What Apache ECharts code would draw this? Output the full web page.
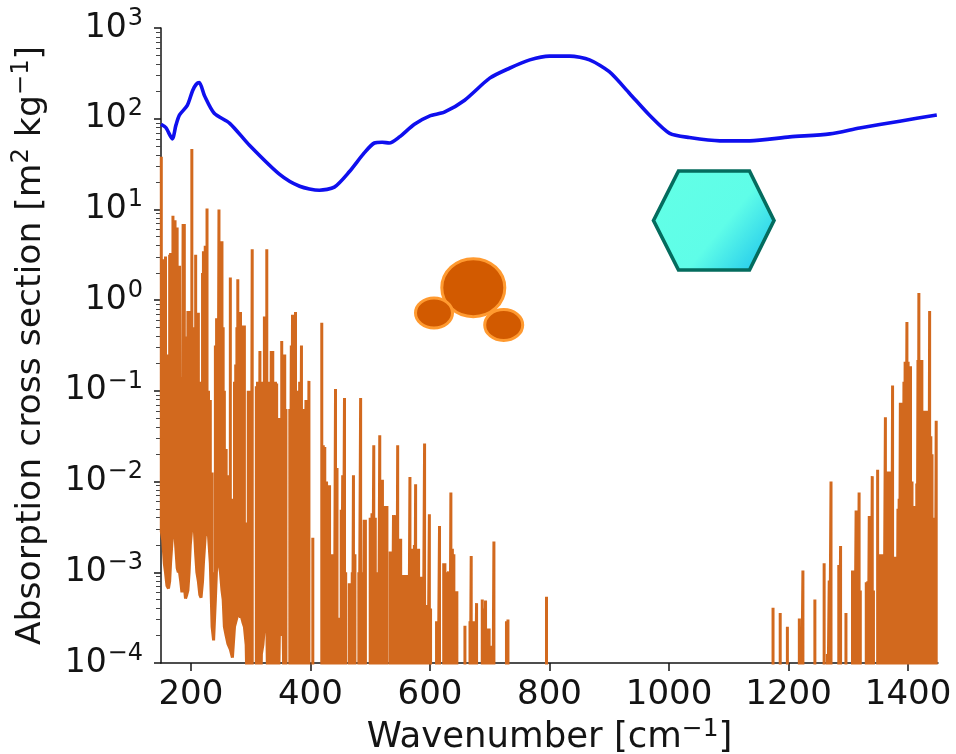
<!DOCTYPE html>
<html><head><meta charset="utf-8">
<style>html,body{margin:0;padding:0;background:#fff}#c{width:956px;height:754px}</style>
<script src="https://cdn.jsdelivr.net/npm/echarts@6/dist/echarts.min.js"></script>
</head><body><div id="c"></div>
<script>
// Aerosol-particle absorption (blue): wavenumber [cm-1] and cross section [m2/kg]
const blueWavenumber = [150,158,169,175,181,194,203,209,214,223,239,265,298,348,382,415,440,465,490,507,520,532,549,574,599,624,658,700,733,767,800,834,867,900,934,967,1001,1034,1085,1135,1202,1269,1319,1386,1448];
const blueCross = [87,80,60,85,110,140,205,240,250,178,115,89,51,24.5,18,16.3,17.6,26,42,54,55,54,63,87,107,118,160,280,360,445,490,490,445,330,190,110,69,62,57,57,63,68,79,94,110];

// Gas lines, cross section given as a power of ten.
// Dense part: [wavenumber, top decade, lower end decade]
const orangeDenseLines = [
[150.5,1.58,-2.55],[153,.29,-2.65],[155.5,.45,-2.9],[157.5,.48,-3],[160,-.6,-3.15],[162.5,-.62,-3.18],[164.5,.5,-3.1],[166,.52,-2.9],[168,-.3,-2.7],[170,.93,-2.5],[172,.85,-2.49],[173.5,.88,-2.6],[175.5,.5,-2.8],[177,.8,-2.95],[179,.38,-3],[181,.38,-3],[183,-.85,-3.1],[185,-.85,-3.22],[187,.84,-3.2],[189,.84,-3.15],[191,-.4,-3.29],[193,-.4,-3.25],[195,-.12,-3.2],[197,-.12,-3],[199,-.4,-2.7],[201.6,1.665,-2.5],[204,-.3,-2.47],[206,-.3,-2.55],[208,.5,-2.8],[210,-.14,-3],[212.5,-.14,-3.1],[215,-.9,-3.25],[217,-.96,-3.28],[219.5,.3,-3.1],[221,.54,-2.9],[224,.6,-2.6],[227,1.01,-2.55],[229.5,-1,-2.6],[232.5,-1.1,-2.9],[235.5,-1.9,-3.6],[238,-3,-3.75],[241,-.5,-3.3],[243,-.2,-2.95],[245,-.2,-2.89],[247,1,-2.9],[249.5,.65,-3],[252,.65,-3.2],[254,-.3,-3.3],[256,-1,-3.6],[259,-1.64,-3.7],[262,-1.93,-3.79],[266,.25,-3.85],[269.5,-2.19,-3.94],[273,-.9,-3.6],[275,-.71,-3.55],[277,-.3,-3.5],[278.5,.23,-3.45],[281,-.5,-3.45],[283,-.13,-3.5],[285,-.8,-3.5],[287,-.28,-3.55],[289.5,-.28,-3.6],[292.5,-2.45,-3.8],[318,-1.3,-3.9],[320.5,-.9,-3.8],[323,-.18,-3.6],[327,.56,-3.5],[348,-1.3,-3.7],[350,-1.3,-3.7],[352,-.45,-3.6],[354.5,-.6,-3.7]
];
// Open part: [wavenumber, top decade]; these lines run off the bottom of the axis
const orangeOpenLines = [
[296,-1],[298.5,-1],[300.5,-1],[302.6,.56],[309.5,-.95],[311.5,-.9],[313.5,-1.1],[315.5,-.56],[329.5,-.9],[332,-1],[334.5,-.56],[337,-.56],[339.5,-1.4],[341.5,-.9],[343.5,-.92],[345.5,-1.9],[357,-.6],[359,-1.2],[365.5,-1.2],[368,-.5],[370,-.16],[372.5,-.5],[375,-.13],[377,-1],[379.5,-1.1],[382,-.9],[385,-.5],[389.5,-1.2],[392.5,-1.1],[395,-1.2],[397.5,-.89],[404,-2.62],[419,-.25],[421.5,-1.6],[424,-1.62],[427,-2],[430,-2.3],[432,-2.04],[434.5,-2.8],[437,-2.8],[439.5,-2.9],[442,-.98],[444.5,-1.85],[447.5,-3.5],[451.5,-2.31],[454,-1.93],[457,-1.08],[459,-3],[465,-3.12],[467.5,-3.12],[470,-3],[472,-1.93],[474.5,-2.8],[481,-3],[484,-1.08],[486.5,-3],[488,-3.9],[490,-2.42],[492,-2.42],[500,-2.4],[503,-2.35],[506,-1.6],[508.5,-2.4],[511,-3.3],[513.5,-3],[516,-1.49],[518.5,-1.98],[520.5,-1.98],[523,-2.27],[525.5,-2.27],[528,-2.27],[533.5,-2.77],[536,-2.77],[539,-2.37],[542,-2.37],[544,-2.4],[546,-1.6],[548,-2.63],[551,-2.63],[553,-3.03],[555.5,-3.03],[558,-3.03],[561.5,-3.03],[564,-3.03],[566.5,-1.95],[569,-2.74],[571.5,-3.84],[574,-2.7],[576,-2.03],[578.5,-2.74],[581,-2.74],[583,-3.05],[585.5,-3.05],[588,-3.5],[591,-1.58],[593.5,-3.36],[596,-3.36],[599,-2.36],[601,-3.4],[611,-3.54],[613,-3.54],[616,-2.49],[623,-2.9],[625,-2.9],[628,-3],[631,-2.99],[633,-3],[635,-2.12],[637.5,-2.74],[640,-2.8],[642.5,-3.21],[645,-3.21],[658.5,-3.59],[667,-3.54],[669,-2.82],[672,-3.54],[675,-3.54],[678,-3.34],[687.5,-3.3],[690,-3.4],[693,-3.31],[696,-3.62],[699,-3.62],[701,-3.81],[703,-3.81],[705,-3.81],[707,-2.66],[728,-3.54],[730.5,-3.52],[795,-3.27],
[1174,-3.39],[1186,-3.45],[1198,-3.6],[1218,-3.51],[1221,-3.6],[1224,-2.98],[1244,-3.3],[1259.5,-2.9],[1265,-3.9],[1268,-3.09],[1271,-2],[1284,-2.92],[1287,-2.71],[1296,-3.45],[1307,-2.98],[1310,-2.98],[1313,-2.32],[1315.5,-2.4],[1318,-2.12],[1320,-3.2],[1330,-3.11],[1332.5,-3.1],[1335,-2.38],[1337.5,-2.4],[1340,-1.94],[1342,-3.2],[1349,-1.87],[1351.5,-2.8],[1354,-2.8],[1356.5,-2.8],[1359,-3],[1362,-1.29],[1364.5,-1.89],[1367,-1.89],[1369.5,-1.89],[1372,-1.9],[1374,-.94],[1376,-2.83],[1378,-2.83],[1381,-3.2],[1383,-2.3],[1385,-2.19],[1387,-1.13],[1389,-1.13],[1391,-2.9],[1393,-.9],[1395,-.68],[1398,-.24],[1400,-.68],[1402,-.73],[1404,-.73],[1406.5,-2],[1408,-2.27],[1411,-2.27],[1414.5,-2.02],[1416.5,-.66],[1418,.08],[1420.5,-.66],[1423,-.66],[1425,-1.22],[1427.5,-1.22],[1429.5,-1.22],[1432,-2],[1434,-1.22],[1436,-.12],[1438,-1.5],[1440,-1.7],[1443,-3],[1445,-2.4],[1447,-1.33]
];
const belowAxisDecade = -5;

const xTickLabels = [200,400,600,800,1000,1200,1400];
const yTickDecades = [-4,-3,-2,-1,0,1,2,3];

const sticks = orangeDenseLines.concat(orangeOpenLines.map(r => [r[0], r[1], belowAxisDecade])).sort((a,b) => a[0]-b[0]);
const orangePoints = [];
sticks.forEach(s => {
  orangePoints.push([s[0], Math.pow(10,s[2])], [s[0], Math.pow(10,s[1])], [s[0], Math.pow(10,s[2])]);
});
const minorValues = [];
yTickDecades.slice(0,-1).forEach(d => { for (let m=2;m<10;m++) minorValues.push(m*Math.pow(10,d)); });

const FONT = 'DejaVu Sans';
const INK = '#141414';
const supRich = {
  b:{fontFamily:FONT,fontSize:33,color:INK,lineHeight:38},
  s:{fontFamily:FONT,fontSize:24,color:INK,lineHeight:38,padding:[0,0,19,1]}
};
const titleRich = size => ({
  t:{fontFamily:FONT,fontSize:size,color:INK,lineHeight:size+4},
  s:{fontFamily:FONT,fontSize:size*0.7,color:INK,lineHeight:size+4,padding:[0,0,size*0.5,0]}
});
const chart = echarts.init(document.getElementById('c'),null,{renderer:'canvas'});
chart.setOption({
  animation:false,
  backgroundColor:'#fff',
  grid:{left:161,right:18,top:28,bottom:91,containLabel:false,outerBoundsMode:'none'},
  xAxis:{
    type:'value',min:150,max:1450,
    name:'{t|Wavenumber [cm}{s|−1}{t|]}',nameLocation:'middle',nameGap:54,
    nameTextStyle:{rich:titleRich(35.5)},
    splitLine:{show:false},
    axisLine:{show:true,onZero:false,lineStyle:{color:INK,width:1.5}},
    axisTick:{show:true,length:8,customValues:xTickLabels,lineStyle:{color:INK,width:1.5}},
    axisLabel:{customValues:xTickLabels,margin:15,fontFamily:FONT,fontSize:34,color:INK,hideOverlap:false,formatter:v=>String(v)}
  },
  yAxis:[{
    type:'log',logBase:10,min:1e-4,max:1e3,
    name:'{t|Absorption cross section [m}{s|2}{t| kg}{s|−1}{t|]}',nameLocation:'middle',nameGap:111,nameRotate:90,
    nameTextStyle:{rich:titleRich(34.6)},
    splitLine:{show:false},
    axisLine:{show:true,lineStyle:{color:INK,width:1.5}},
    axisTick:{show:true,length:7,lineStyle:{color:INK,width:1.5}},
    axisLabel:{
      margin:18,hideOverlap:false,
      formatter:v => '{b|10}{s|'+String(Math.round(Math.log10(v))).replace('-','−')+'}',
      rich:supRich
    }
  },{
    type:'log',logBase:10,min:1e-4,max:1e3,position:'left',
    splitLine:{show:false},
    axisLine:{show:false},
    axisLabel:{show:false},
    axisTick:{show:true,length:5,customValues:minorValues,lineStyle:{color:'#444',width:1}}
  }],
  series:[{
    type:'line',data:orangePoints,showSymbol:false,symbol:'none',
    lineStyle:{color:'#d2691e',width:3,join:'bevel',cap:'butt'},
    clip:true,z:2,silent:true
  },{
    type:'line',data:blueWavenumber.map((w,i)=>[w,blueCross[i]]),showSymbol:false,symbol:'none',smooth:0.25,
    lineStyle:{color:'#0f0fee',width:3.6},z:3,silent:true
  }],
  graphic:[
    {type:'polygon',z:10,silent:true,shape:{points:[[653.5,220.5],[678.5,171],[749.5,171],[774,220.5],[749.5,270],[678.5,270]]},
     style:{fill:new echarts.graphic.LinearGradient(0.12,0.1,0.95,0.92,[{offset:0,color:'#62ffe6'},{offset:0.55,color:'#5ffde8'},{offset:1,color:'#20c6ec'}]),stroke:'#046c5e',lineWidth:3.6,lineJoin:'miter'}},
    {type:'ellipse',z:10,silent:true,shape:{cx:473.3,cy:287.7,rx:31.5,ry:29},style:{fill:'#d25a00',stroke:'#ff9a30',lineWidth:3}},
    {type:'ellipse',z:11,silent:true,shape:{cx:434,cy:313,rx:18.5,ry:15},style:{fill:'#d25a00',stroke:'#ff9a30',lineWidth:3}},
    {type:'ellipse',z:11,silent:true,shape:{cx:503.7,cy:325,rx:19,ry:15.5},style:{fill:'#d25a00',stroke:'#ff9a30',lineWidth:3}}
  ]
});
</script></body></html>
